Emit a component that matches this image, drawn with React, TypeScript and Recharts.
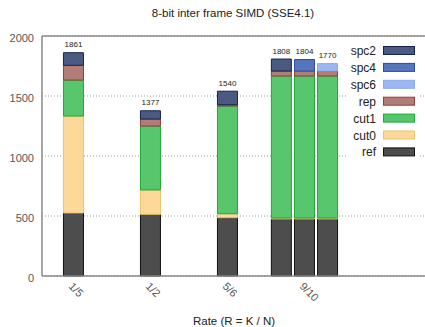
import {
  BarChart, Bar, XAxis, YAxis, CartesianGrid, ReferenceLine, LabelList, Customized,
} from 'recharts'

const RATES = ['1/5', '1/2', '5/6', '9/10']
// which rate each bar belongs to (9/10 has three variants side by side)
const BAR_RATE = [0, 1, 2, 3, 3, 3]

const REF = [525, 514, 486, 475, 475, 475]
const CUT0 = [808, 203, 33, 8, 8, 8]
const CUT1 = [300, 533, 898, 1184, 1184, 1184]
const REP = [123, 58, 10, 41, 41, 41]
const SPC2 = [105, 69, 113, 100, 0, 0]
const SPC4 = [0, 0, 0, 0, 96, 0]
const SPC6 = [0, 0, 0, 0, 0, 62]
const TOTALS = [1861, 1377, 1540, 1808, 1804, 1770]

const Y_TICKS = [0, 500, 1000, 1500, 2000]

const FONT = '"Liberation Sans", Arial, Helvetica, sans-serif'

// dataKeys get a "v_" prefix: a plain "ref" key would be spread onto the bar shape as a React ref
const SERIES = [
  { name: 'ref', fill: '#4d4d4d', stroke: '#111111' },
  { name: 'cut0', fill: '#fcd899', stroke: '#eec36a' },
  { name: 'cut1', fill: '#57c66d', stroke: '#1aab36' },
  { name: 'rep', fill: '#b27c78', stroke: '#983b3b' },
  { name: 'spc2', fill: '#4b5a80', stroke: '#15224f' },
  { name: 'spc4', fill: '#5676bc', stroke: '#2b4ca3' },
  { name: 'spc6', fill: '#9db6f0', stroke: '#8aa8ec' },
]
const LEGEND_ORDER = ['spc2', 'spc4', 'spc6', 'rep', 'cut1', 'cut0', 'ref']

// spread the bars of one rate group around the rate position
const GROUP_STEP = 0.3
const data = BAR_RATE.map((r, i) => {
  const members = BAR_RATE.map((g, j) => (g === r ? j : -1)).filter((j) => j >= 0)
  const k = members.indexOf(i)
  return {
    x: r + (k - (members.length - 1) / 2) * GROUP_STEP,
    v_ref: REF[i],
    v_cut0: CUT0[i],
    v_cut1: CUT1[i],
    v_rep: REP[i],
    v_spc2: SPC2[i],
    v_spc4: SPC4[i],
    v_spc6: SPC6[i],
    total: TOTALS[i],
  }
})

const YTick = ({ x, y, payload }: any) => (
  <text x={x} y={y} dy={5.5} textAnchor="end" fontSize={11} fill="#555" fontFamily={FONT}>
    {payload.value}
  </text>
)

const XTick = ({ x, y, payload }: any) => (
  <text
    transform={`translate(${x - 5},${y + 11}) rotate(45)`}
    textAnchor="start"
    fontSize={11}
    fill="#555"
    fontFamily={FONT}
  >
    {RATES[payload.value]}
  </text>
)

const TotalLabel = ({ x, y, width, height, value }: any) => {
  if (!height) return null
  return (
    <text x={x + width / 2} y={y - 5.5} textAnchor="middle" fontSize={8} fill="#222" fontFamily={FONT}>
      {value}
    </text>
  )
}

const Extras = () => {
  const byName = Object.fromEntries(SERIES.map((s) => [s.name, s]))
  return (
    <g fontFamily={FONT}>
      <text x={233} y={17} textAnchor="middle" fontSize={11.5} fill="#222">
        8-bit inter frame SIMD (SSE4.1)
      </text>
      <text x={234} y={325} textAnchor="middle" fontSize={11.5} fill="#222">
        Rate (R = K / N)
      </text>
      <rect x={347} y={41} width={72} height={119} fill="#fff" />
      {LEGEND_ORDER.map((k, i) => {
        const cy = 50.5 + i * 16.9
        const s = byName[k]
        return (
          <g key={k}>
            <text x={376} y={cy + 4.5} textAnchor="end" fontSize={12} fill="#222">{k}</text>
            <rect x={383.5} y={cy - 4} width={31} height={8} fill={s.fill} stroke={s.stroke} />
          </g>
        )
      })}
    </g>
  )
}

export default function App() {
  return (
    <div style={{ position: 'absolute', left: 0, top: 0 }}>
      <BarChart
        width={425}
        height={327}
        data={data}
        margin={{ top: 36, right: 0, left: 0, bottom: 0 }}
        barSize={20}
      >
        <CartesianGrid vertical={false} stroke="#999" strokeDasharray="1 2" />
        <XAxis
          dataKey="x"
          type="number"
          domain={[-0.4026, 4.571]}
          allowDataOverflow
          ticks={[0, 1, 2, 3]}
          interval={0}
          height={51}
          tickLine={false}
          tickSize={0}
          tickMargin={0}
          axisLine={{ stroke: '#888', strokeWidth: 1.5 }}
          tick={<XTick />}
        />
        <YAxis
          domain={[0, 2000]}
          ticks={Y_TICKS}
          interval={0}
          width={42}
          tickLine={false}
          axisLine={{ stroke: '#888', strokeWidth: 1.5 }}
          tick={<YTick />}
        />
        <YAxis
          yAxisId="mirror"
          orientation="right"
          domain={[0, 2000]}
          ticks={[500, 1000, 1500]}
          width={0}
          mirror
          tickSize={5}
          axisLine={false}
          tickLine={{ stroke: '#888', strokeWidth: 1 }}
          tick={() => <g />}
        />
        <ReferenceLine y={2000} stroke="#888" strokeWidth={1.5} />
        {SERIES.map((s) => (
          <Bar
            key={s.name}
            name={s.name}
            dataKey={`v_${s.name}`}
            stackId="a"
            fill={s.fill}
            stroke={s.stroke}
            strokeWidth={1}
            isAnimationActive={false}
          >
            {s.name.startsWith('spc') && <LabelList dataKey="total" content={<TotalLabel />} />}
          </Bar>
        ))}
        <Customized component={<Extras />} />
      </BarChart>
    </div>
  )
}
